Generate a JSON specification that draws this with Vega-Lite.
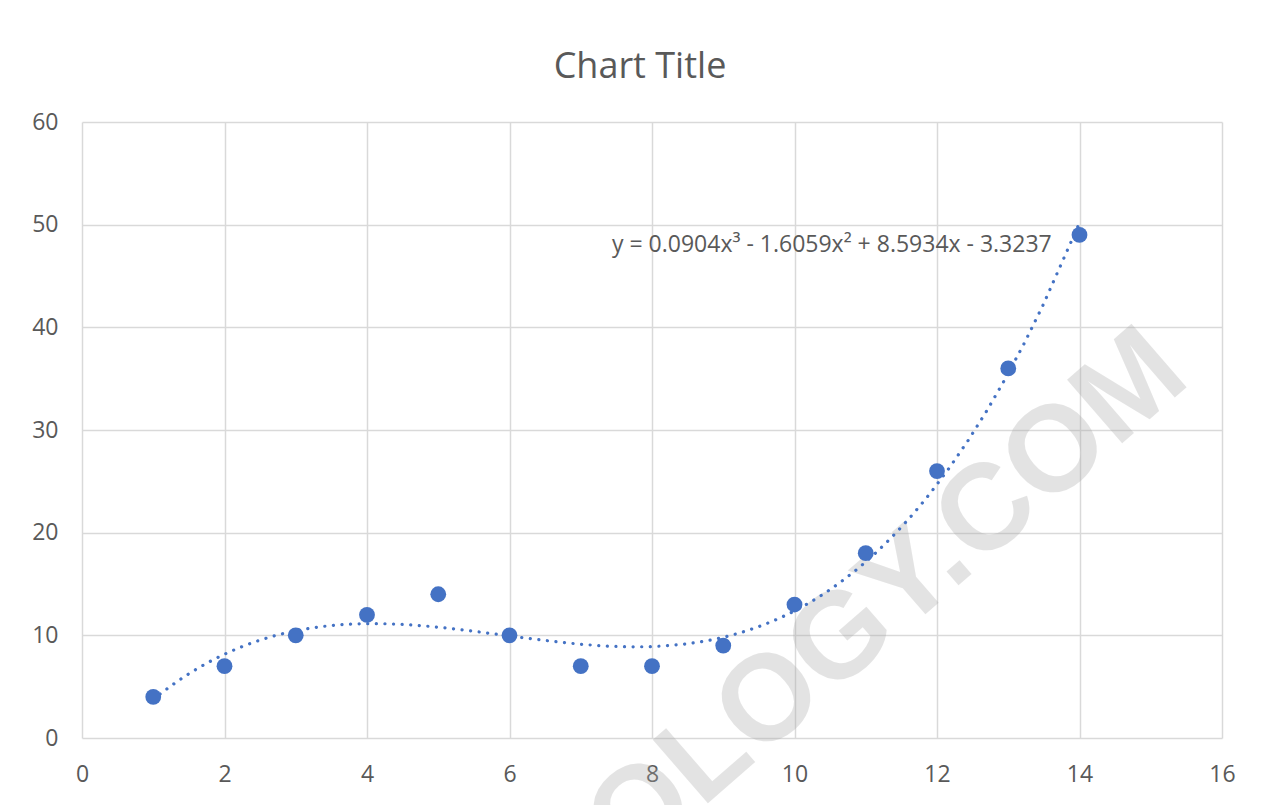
{
  "$schema": "https://vega.github.io/schema/vega-lite/v6.json",
  "width": 1140,
  "height": 616,
  "autosize": {"type": "none"},
  "padding": {"left": 82, "top": 122, "right": 56, "bottom": 67},
  "background": "white",
  "title": {
    "text": "Chart Title",
    "font": "Open Sans",
    "fontSize": 36,
    "fontWeight": "normal",
    "color": "#595959",
    "anchor": "middle",
    "frame": "group",
    "baseline": "alphabetic",
    "offset": -3,
    "dx": -12
  },
  "config": {
    "view": {"stroke": null},
    "axis": {
      "domain": false,
      "ticks": false,
      "tickSize": 0,
      "grid": true,
      "gridColor": "#d9d9d9",
      "gridWidth": 1.5,
      "labelFont": "Open Sans",
      "labelFontSize": 23,
      "labelColor": "#595959",
      "labelFlush": false,
      "title": null
    }
  },
  "datasets": {
    "points": [
      {"x": 1, "y": 4},
      {"x": 2, "y": 7},
      {"x": 3, "y": 10},
      {"x": 4, "y": 12},
      {"x": 5, "y": 14},
      {"x": 6, "y": 10},
      {"x": 7, "y": 7},
      {"x": 8, "y": 7},
      {"x": 9, "y": 9},
      {"x": 10, "y": 13},
      {"x": 11, "y": 18},
      {"x": 12, "y": 26},
      {"x": 13, "y": 36},
      {"x": 14, "y": 49}
    ],
    "equation": [{"label": "y = 0.0904x³ - 1.6059x² + 8.5934x - 3.3237"}],
    "watermark": [{"label": "OLOGY.COM"}]
  },
  "layer": [
    {
      "data": {"name": "watermark"},
      "mark": {
        "type": "text",
        "font": "Liberation Sans",
        "fontWeight": "bold",
        "fontSize": 122,
        "angle": -41,
        "align": "center",
        "baseline": "middle",
        "fill": "#a6a6a6",
        "opacity": 0.3
      },
      "encoding": {
        "x": {"datum": 11.3, "type": "quantitative", "scale": {"domain": [0, 16], "nice": false}, "axis": {"values": [0, 2, 4, 6, 8, 10, 12, 14, 16], "format": "d", "labelPadding": 25, "labelFlush": false}},
        "y": {"datum": 13.6, "type": "quantitative", "scale": {"domain": [0, 60], "nice": false}, "axis": {"values": [0, 10, 20, 30, 40, 50, 60], "format": "d", "labelPadding": 24}},
        "text": {"field": "label"}
      }
    },
    {
      "data": {"name": "points"},
      "transform": [
        {"regression": "y", "on": "x", "method": "poly", "order": 3}
      ],
      "mark": {
        "type": "line",
        "color": "#4472C4",
        "strokeWidth": 3.2,
        "strokeDash": [0.1, 8.5],
        "strokeCap": "round"
      },
      "encoding": {
        "x": {"field": "x", "type": "quantitative"},
        "y": {"field": "y", "type": "quantitative"}
      }
    },
    {
      "data": {"name": "points"},
      "mark": {"type": "circle", "size": 250, "color": "#4472C4", "opacity": 1},
      "encoding": {
        "x": {"field": "x", "type": "quantitative"},
        "y": {"field": "y", "type": "quantitative"}
      }
    },
    {
      "data": {"name": "equation"},
      "mark": {
        "type": "text",
        "font": "Open Sans",
        "fontSize": 23,
        "align": "right",
        "baseline": "middle",
        "color": "#595959"
      },
      "encoding": {
        "x": {"datum": 13.61, "type": "quantitative"},
        "y": {"datum": 48.0, "type": "quantitative"},
        "text": {"field": "label"}
      }
    }
  ]
}
